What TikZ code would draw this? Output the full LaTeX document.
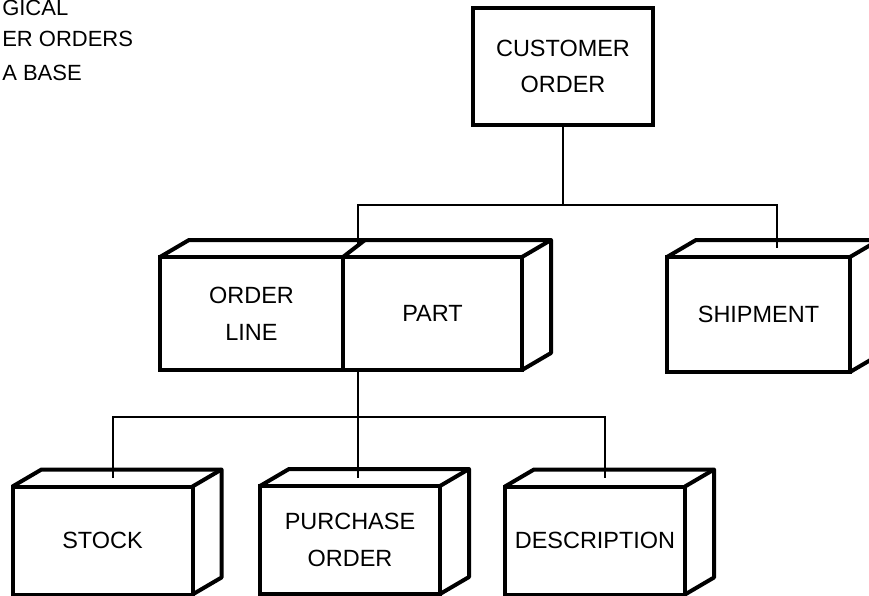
\documentclass[tikz,border=0pt]{standalone}
\usepackage{fontspec}
\setmainfont{Liberation Sans}
\usetikzlibrary{calc}

\begin{document}
\begin{tikzpicture}[x=0.75pt, y=-0.75pt,
  blocco/.style={draw, line width=3pt, inner sep=0pt, outer sep=0pt, align=center,
    minimum width=135pt, minimum height=81pt,
    font=\fontsize{17.6}{27.5}\selectfont},
  faccia/.style={line width=3pt, line join=round},
  linea/.style={line width=2pt},
  titolo/.style={anchor=base west, inner sep=0pt, font=\fontsize{16.5}{20}\selectfont}]

\useasboundingbox (0,0) rectangle (869,596);
\clip (0,0) rectangle (869,596);

% Titolo (tagliato a sinistra)
\node[titolo] (t1) at (2,16) {GICAL};
\node[titolo] (t2) at (2,46) {ER ORDERS};
\node[titolo] (t3) at (2,80) {A BASE};

% Blocchi
\node[blocco, minimum height=87.75pt] (cust) at (563,66.5) {CUSTOMER\\ORDER};
\node[blocco, minimum width=137.25pt, minimum height=84.75pt] (ordline) at (251.5,313.5) {ORDER\\LINE};
\node[blocco, minimum width=134.25pt, minimum height=84.75pt] (part) at (432.5,313.5) {PART};
\node[blocco, minimum width=137.25pt, minimum height=86.25pt] (ship) at (758.5,314.5) {SHIPMENT};
\node[blocco] (stock) at (102.5,540.5) {STOCK};
\node[blocco] (purch) at (350,540) {PURCHASE\\ORDER};
\node[blocco] (descr) at (595,540.5) {DESCRIPTION};

% Facce in profondita
\foreach \blk in {ship, stock, purch, descr} {
  \draw[faccia] (\blk.north west) -- ++(29,-17) -- ($(\blk.north east)+(29,-17)$)
    -- ($(\blk.south east)+(29,-17)$) -- (\blk.south east);
  \draw[faccia] (\blk.north east) -- ++(29,-17);
}
\draw[faccia] (ordline.north west) -- ++(29,-17) -- ($(part.north east)+(29,-17)$)
  -- ($(part.south east)+(29,-17)$) -- (part.south east);
\draw[faccia] (part.north east) -- ++(29,-17);
\draw[faccia] (part.north west) -- ++(22,-17);

% Collegamenti
\coordinate (bus1) at (0,205);
\coordinate (bus2) at (0,417);
\coordinate (olp top) at (358,247);
\coordinate (ship top) at (777,248);
\coordinate (olp foot) at ($(part.south west)+(15,0)$);
\coordinate (stock top) at (113,478);
\coordinate (purch top) at (358,478);
\coordinate (descr top) at (605,478);

\draw[linea] (cust) -- (cust |- bus1);
\draw[linea] (olp top) -- (olp top |- bus1) -- (ship top |- bus1) -- (ship top);
\draw[linea] (olp foot) -- (purch top);
\draw[linea] (stock top) -- (stock top |- bus2) -- (descr top |- bus2) -- (descr top);

\end{tikzpicture}
\end{document}
